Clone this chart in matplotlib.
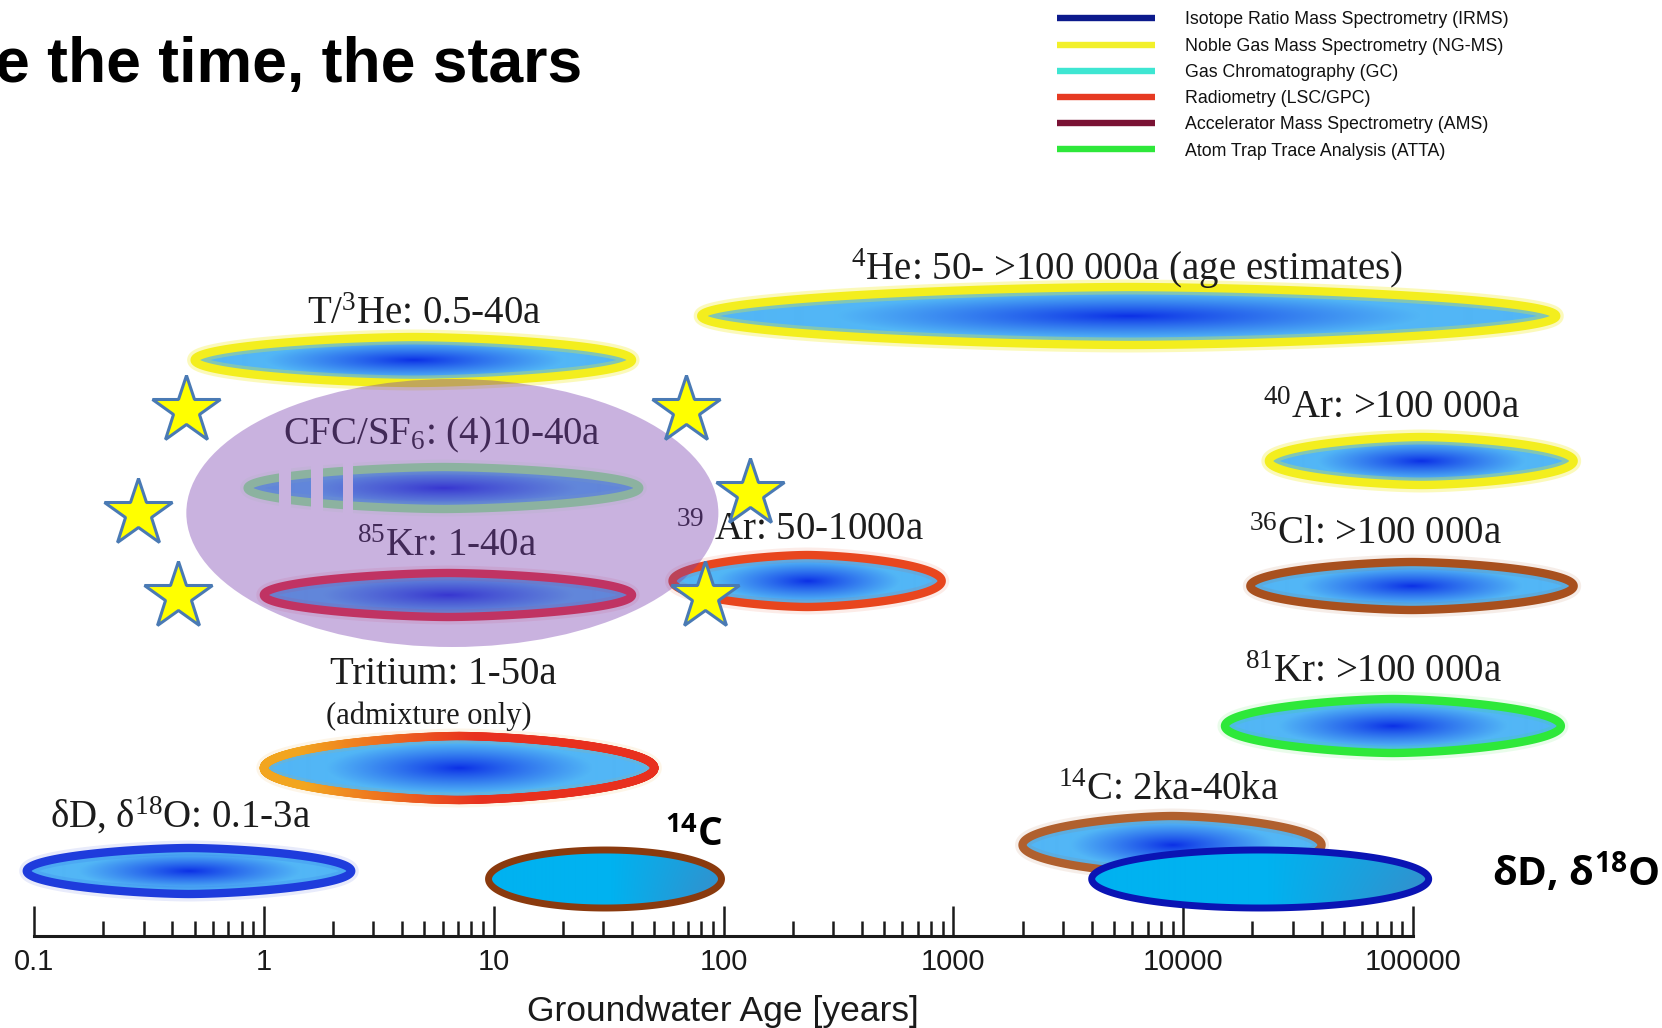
import numpy as np
import matplotlib
matplotlib.use("Agg")
import matplotlib.pyplot as plt
from matplotlib.patches import Polygon, Ellipse, Rectangle
from matplotlib.collections import LineCollection
from matplotlib.colors import to_rgb
from matplotlib.lines import Line2D
from matplotlib.ticker import FixedLocator, FixedFormatter

plt.rcParams.update({
    "mathtext.fontset": "custom",
    "mathtext.rm": "Liberation Serif",
    "mathtext.it": "Liberation Serif:italic",
    "mathtext.bf": "Open Sans:bold",
    "font.family": "Liberation Sans",
})

# ---------------- data ----------------
# Dating tracers: label, applicable age range [years], detection-method colour
method_labels = [
    r"T/$^{3}$He: 0.5-40a",
    r"$^{4}$He: 50- >100 000a (age estimates)",
    r"CFC/SF$_{6}$: (4)10-40a",
    r"$^{85}$Kr: 1-40a",
    r"$^{39}$ Ar: 50-1000a",
    r"Tritium: 1-50a",
    r"δD, δ$^{18}$O: 0.1-3a",
    r"$^{40}$Ar: >100 000a",
    r"$^{36}$Cl: >100 000a",
    r"$^{81}$Kr: >100 000a",
    r"$^{14}$C: 2ka-40ka",
]
age_low = [0.5, 80, 0.85, 1, 60, 1, 0.093, 23600, 19600, 15200, 2000]
age_high = [40, 420000, 43, 40, 890, 50, 2.4, 500000, 500000, 440000, 40000]
edge_left = ["#f3ee1e", "#f3ee1e", "#98ff96", "#f02c30", "#e8461e", "#f2a51f",
             "#1e3cdc", "#f3ee1e", "#a8501e", "#2ee83a", "#b0602e"]
edge_right = ["#f3ee1e", "#f3ee1e", "#98ff96", "#f02c30", "#e8461e", "#e8301e",
              "#1e3cdc", "#f3ee1e", "#a8501e", "#2ee83a", "#b0602e"]
tritium_note = "(admixture only)"

# highlighted group (CFC/SF6 and 85Kr)
highlight_ages = (0.46, 95)

# the two added tracers
own_labels = [r"$^{\mathbf{14}}$C", r"δD, δ$^{\mathbf{18}}$O"]
own_low = [9.5, 4000]
own_high = [98, 117000]
own_edge = ["#8a3a0e", "#0a14b4"]

legend_labels = [
    "Isotope Ratio Mass Spectrometry (IRMS)",
    "Noble Gas Mass Spectrometry (NG-MS)",
    "Gas Chromatography (GC)",
    "Radiometry (LSC/GPC)",
    "Accelerator Mass Spectrometry (AMS)",
    "Atom Trap Trace Analysis (ATTA)",
]
legend_colors = ["#0c1a8c", "#f2f02a", "#3ee6d2", "#e63a22", "#7a1234", "#2ee83a"]

tick_values = [0.1, 1, 10, 100, 1000, 10000, 100000]
tick_labels = ["0.1", "1", "10", "100", "1000", "10000", "100000"]
title_text = "e the time, the stars"
x_label = "Groundwater Age [years]"

# ---------------- layout (pixels from top) ----------------
W, H = 1662, 1028
AXIS_Y = 936
X01, X1E5 = 34, 1413
row_y = [360, 316, 488, 595, 581, 768, 871, 461, 586, 726, 845]
row_hh = [23, 29, 21, 22, 26, 32, 23, 24, 24, 27, 29]
label_xy = [(424, 314), (1127, 269), (442, 435), (447, 547), (800, 531),
            (443, 675), (180, 816), (1392, 408), (1375, 534), (1374, 673), (1169, 791)]
note_xy = (429, 716)
own_y, own_hh = [879, 879], [29, 29]
own_label_xy = [(694, 835, "center"), (1492, 872, "left")]
highlight_y, highlight_hh = 513, 134
star_offsets = [(-1.0, -0.79), (0.88, -0.79), (-1.18, -0.02), (1.12, -0.17),
                (-1.03, 0.60), (0.95, 0.60)]

fig = plt.figure(figsize=(W / 100, H / 100), dpi=100)

# axis with log age scale
ax = fig.add_axes([0, (H - AXIS_Y) / H, 1, AXIS_Y / H])
dec = (X1E5 - X01) / 6.0
ax.set_xscale("log")
ax.set_xlim(10 ** (-1 - X01 / dec), 10 ** (5 + (W - X1E5) / dec))
ax.set_ylim(AXIS_Y, 0)
ax.patch.set_alpha(0)
for s in ("top", "left", "right"):
    ax.spines[s].set_visible(False)
ax.spines["bottom"].set_bounds(tick_values[0], tick_values[-1])
ax.spines["bottom"].set_linewidth(2.2)
ax.spines["bottom"].set_color("#1a1a1a")
ax.yaxis.set_visible(False)
ax.xaxis.set_major_locator(FixedLocator(tick_values))
ax.xaxis.set_major_formatter(FixedFormatter(tick_labels))
minor = [m * d for d in tick_values[:-1] for m in range(2, 10)]
ax.xaxis.set_minor_locator(FixedLocator(minor))
ax.tick_params(axis="x", which="major", direction="in", length=21.6, width=1.8,
               color="#1a1a1a", labelsize=21, pad=9, labelcolor="#1a1a1a")
ax.tick_params(axis="x", which="minor", direction="in", length=11, width=1.8,
               color="#1a1a1a")
ax.set_xlabel(x_label, fontsize=25.5, color="#1a1a1a")
ax.xaxis.set_label_coords(723 / W, (AXIS_Y - 1011) / AXIS_Y)
ax.xaxis.label.set_va("center")

# overlay in pixel coordinates for the drawing
ov = fig.add_axes([0, 0, 1, 1])
ov.axis("off")


def xpix(age):
    return ax.transData.transform((age, 0))[0]


DARK = np.array(to_rgb("#0b2fe6"))
LIGHT = np.array(to_rgb("#52b6f6"))


def lens_vertices(cx, cy, a, b, p, n=721):
    t = np.linspace(0, 2 * np.pi, n)
    c, s = np.cos(t), np.sin(t)
    return np.column_stack([cx + a * np.sign(c) * np.abs(c) ** (2 / p), cy + b * s])


def clipped_image(verts, box, img, z):
    x0, x1, y0, y1 = box
    im = ov.imshow(img, extent=(x0, x1, y1, y0), origin="upper", aspect="auto",
                   interpolation="bilinear", zorder=z)
    im.set_clip_path(Polygon(verts, closed=True, transform=ov.transData))
    return im


def radial_image(cx, cy, a, b):
    x0, x1, y0, y1 = cx - a, cx + a, cy - b, cy + b
    X, Y = np.meshgrid(np.linspace(x0, x1, max(int(2 * a), 2)),
                       np.linspace(y0, y1, max(int(2 * b), 2)))
    u, v = (X - cx) / a, (Y - cy) / b
    r = np.sqrt((u / 0.85) ** 2 + v ** 2)
    s = np.clip(r / 0.8, 0, 1) ** 0.9
    return DARK * (1 - s)[..., None] + LIGHT * s[..., None], (x0, x1, y0, y1)


def linear_image(cx, cy, a, b, c0, c1):
    x0, x1, y0, y1 = cx - a, cx + a, cy - b, cy + b
    X, Y = np.meshgrid(np.linspace(x0, x1, max(int(2 * a), 2)),
                       np.linspace(y0, y1, max(int(2 * b), 2)))
    f = np.clip(((X - cx) / a - 0.05) / 0.95, 0, 1) * (0.7 + 0.3 * (Y - y0) / (2 * b))
    c0, c1 = np.array(to_rgb(c0)), np.array(to_rgb(c1))
    return c0 * (1 - f)[..., None] + c1 * f[..., None], (x0, x1, y0, y1)


def stroke(verts, cl, cr, lw, z, glow):
    if glow:
        ov.add_patch(Polygon(verts, closed=True, fill=False, edgecolor=cl, lw=lw * 1.8,
                             alpha=glow, zorder=z))
    if cl == cr:
        ov.add_patch(Polygon(verts, closed=True, fill=False, edgecolor=cl, lw=lw,
                             zorder=z + 0.01, joinstyle="round"))
    else:
        segs = np.stack([verts[:-1], verts[1:]], axis=1)
        xm = segs[:, :, 0].mean(axis=1)
        f = (xm - xm.min()) / (xm.max() - xm.min())
        f = np.clip((f - 0.1) / 0.45, 0, 1)[:, None]
        cols = np.array(to_rgb(cl)) * (1 - f) + np.array(to_rgb(cr)) * f
        ov.add_collection(LineCollection(segs, colors=cols, linewidths=lw,
                                         capstyle="round", zorder=z + 0.01))


# tracer ellipses
for i, lab in enumerate(method_labels):
    l, r = xpix(age_low[i]), xpix(age_high[i])
    cx, a = (l + r) / 2, (r - l) / 2
    cy, b = row_y[i], row_hh[i]
    verts = lens_vertices(cx, cy, a, b, 1.6)
    img, box = radial_image(cx, cy, a, b)
    clipped_image(verts, box, img, 2)
    glow = 0.3 if edge_left[i] == "#f3ee1e" else 0.1
    stroke(verts, edge_left[i], edge_right[i], 6.0, 3, glow)
    if lab.startswith("CFC"):
        for g0, g1 in [(0.081, 0.111), (0.162, 0.192), (0.243, 0.270)]:
            ov.add_patch(Rectangle((l + g0 * 2 * a, cy - b - 10), (g1 - g0) * 2 * a,
                                   2 * b + 20, facecolor="white", edgecolor="none",
                                   zorder=3.5))
    tx, ty = label_xy[i]
    ov.text(tx, ty, lab, ha="center", va="center", fontsize=28,
            family="Liberation Serif", color="#1c1c1c", zorder=4)
    if lab.startswith("Tritium"):
        ov.text(*note_xy, tritium_note, ha="center", va="center", fontsize=22,
                family="Liberation Serif", color="#1c1c1c", zorder=4)

# highlighted group
hl, hr = xpix(highlight_ages[0]), xpix(highlight_ages[1])
hcx, ha_ = (hl + hr) / 2, (hr - hl) / 2
ov.add_patch(Ellipse((hcx, highlight_y), 2 * ha_, 2 * highlight_hh, facecolor="#7a3fb0",
                     edgecolor="none", alpha=0.4, zorder=5))
sx = [hcx + dx * ha_ for dx, dy in star_offsets]
sy = [highlight_y + dy * highlight_hh + 3 for dx, dy in star_offsets]
ov.plot(sx, sy, ls="none", marker="*", ms=51, mfc="#ffff00", mec="#4a7ab4", mew=2.2,
        zorder=6)

# added tracers
for i, lab in enumerate(own_labels):
    l, r = xpix(own_low[i]), xpix(own_high[i])
    cx, a = (l + r) / 2, (r - l) / 2
    cy, b = own_y[i], own_hh[i]
    verts = lens_vertices(cx, cy, a, b, 2.0)
    img, box = linear_image(cx, cy, a, b, "#00b2f0", "#3a8cc8")
    clipped_image(verts, box, img, 7)
    stroke(verts, own_edge[i], own_edge[i], 5.0, 7.5, 0)
    tx, ty, hal = own_label_xy[i]
    ov.text(tx, ty, lab, ha=hal, va="center", fontsize=28 if i == 0 else 29,
            family="Open Sans", weight="bold", color="black", zorder=8)

# title and legend
ov.text(582, 82, title_text, ha="right", va="baseline", fontsize=45, weight="bold",
        family="Liberation Sans", color="black", zorder=8)
handles = [Line2D([], [], color=c, lw=4.6, solid_capstyle="butt") for c in legend_colors]
ov.legend(handles, legend_labels, loc="upper left", bbox_to_anchor=(1057, 11.5),
          bbox_transform=ov.transData, frameon=False,
          prop={"family": "Liberation Sans", "size": 12.8},
          handlelength=5.5, handletextpad=1.7, labelspacing=0.52,
          borderpad=0, borderaxespad=0, labelcolor="#111111")

ov.set_xlim(0, W)
ov.set_ylim(H, 0)

fig.savefig("out.png", dpi=100)
